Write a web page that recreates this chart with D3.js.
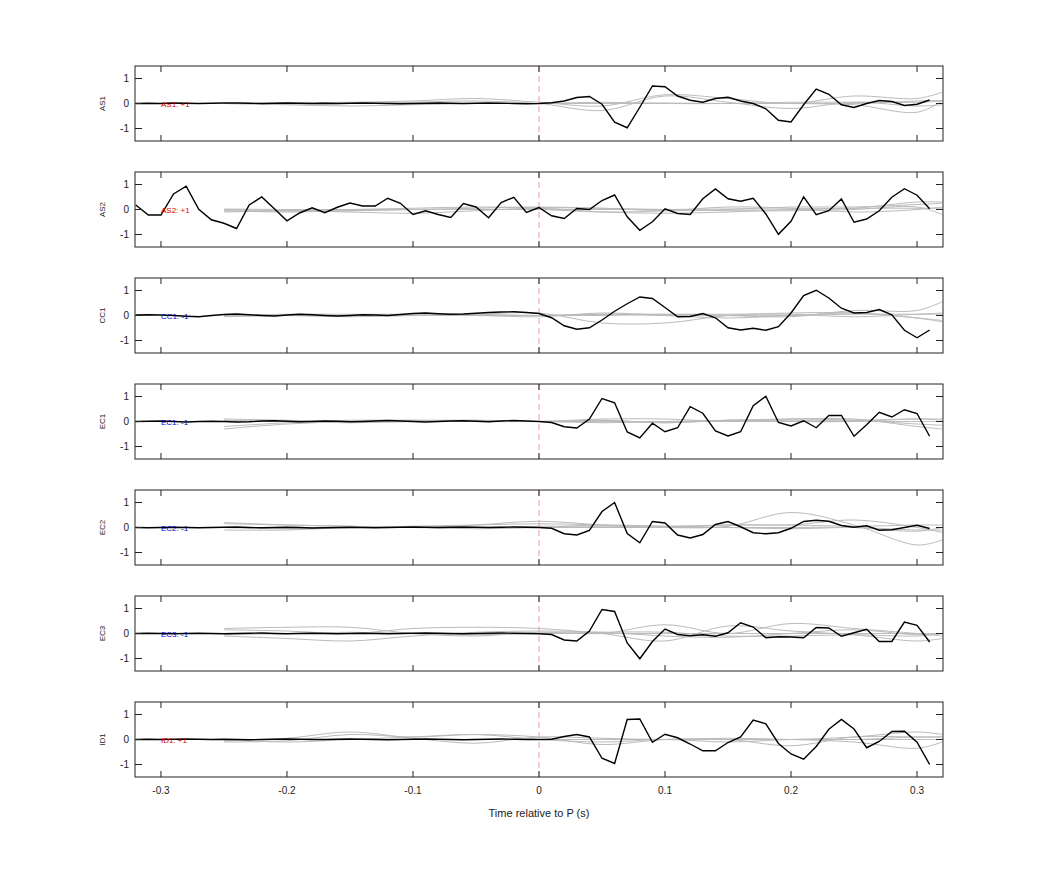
<!DOCTYPE html>
<html><head><meta charset="utf-8">
<script src="https://cdn.jsdelivr.net/npm/d3@7"></script>
<style>body{margin:0;background:#fff;font-family:"Liberation Sans",Arial,sans-serif}</style>
</head><body><div id="chart"></div>
<script>
//  data
const channels = ["AS1", "AS2", "CC1", "EC1", "EC2", "EC3", "ID1"];
const signs = ["+1", "+1", "-1", "-1", "-1", "-1", "+1"];
const times = d3.range(64).map(i => -0.32 + i * 0.01);
const blackValues = [
  [0,0.01,0,0.02,0.01,0,0.01,0.02,0.02,0.01,0,0.01,0.02,0.01,0,0.01,0,0.01,0.02,0.01,0,-0.01,0,0.01,0.02,0.01,0,0.01,0.02,0.01,0,-0.01,0,
   0.03,0.1,0.24,0.28,-0.03,-0.75,-0.97,-0.15,0.7,0.67,0.3,0.13,0.05,0.2,0.25,0.1,0,-0.21,-0.67,-0.74,-0.05,0.58,0.37,-0.05,-0.16,0,0.12,0.08,-0.08,-0.03,0.14],
  [0.18,-0.22,-0.22,0.62,0.93,0.01,-0.41,-0.55,-0.76,0.18,0.5,0.03,-0.45,-0.14,0.07,-0.13,0.09,0.26,0.14,0.14,0.45,0.25,-0.2,-0.05,-0.2,-0.32,0.24,0.1,-0.33,0.28,0.49,-0.12,0.08,
   -0.25,-0.36,0.04,0,0.36,0.58,-0.29,-0.83,-0.49,0.03,-0.16,-0.2,0.43,0.82,0.43,0.33,0.45,-0.18,-0.99,-0.47,0.51,-0.21,-0.05,0.42,-0.51,-0.38,-0.05,0.49,0.83,0.57,0.03],
  [0.02,0.03,0.02,0,-0.03,-0.05,0,0.04,0.06,0.03,0,-0.02,0.02,0.05,0.03,0,-0.02,0,0.03,0.02,0,0.04,0.08,0.1,0.07,0.05,0.06,0.09,0.12,0.14,0.15,0.12,0.08,
   -0.09,-0.41,-0.55,-0.49,-0.18,0.17,0.47,0.74,0.68,0.32,-0.05,-0.04,0.08,-0.09,-0.49,-0.58,-0.51,-0.59,-0.45,0.1,0.8,1.01,0.7,0.29,0.1,0.12,0.24,0.03,-0.59,-0.89,-0.58],
  [0,0.01,0.02,0,-0.02,0,0.01,0,-0.02,-0.01,0.02,0.03,0.01,-0.01,0,0.02,0.01,-0.01,0,0.02,0.04,0.02,0,-0.02,0,0.02,0.03,0.01,-0.01,0.02,0.04,0.02,0,
   -0.04,-0.21,-0.26,0.1,0.92,0.75,-0.42,-0.66,-0.07,-0.41,-0.25,0.59,0.33,-0.38,-0.58,-0.41,0.63,1.01,-0.04,-0.18,0.03,-0.25,0.24,0.24,-0.59,-0.13,0.37,0.18,0.47,0.32,-0.59],
  [0,-0.01,0,0.01,0,-0.01,0,0.01,0.02,0,-0.01,0,0.01,0,-0.02,-0.01,0,0.01,0,-0.01,0,0.01,0.02,0.01,0,0.01,0.02,0.01,0,0.01,0.02,0.01,0,
   -0.03,-0.25,-0.3,-0.12,0.64,1.0,-0.24,-0.61,0.24,0.18,-0.3,-0.42,-0.28,0.12,0.24,0.03,-0.21,-0.25,-0.21,-0.03,0.24,0.29,0.25,0.08,0.01,0.07,-0.11,-0.09,0,0.09,-0.04],
  [0,0.01,0,-0.01,0,0.01,0,-0.01,0,0.01,0.02,0,-0.01,0,0.01,0,-0.01,0,0.01,0,-0.01,0,0.01,0.02,0.01,0,-0.01,0,0.01,0.02,0.01,0,-0.01,
   -0.04,-0.26,-0.3,0.1,0.96,0.88,-0.38,-1.01,-0.32,0.18,-0.04,-0.09,-0.05,-0.11,0.03,0.43,0.26,-0.17,-0.13,-0.14,-0.17,0.24,0.22,-0.11,0.03,0.17,-0.32,-0.32,0.46,0.33,-0.34],
  [0,0.01,0,0.01,0.02,0.01,0,0.01,0,-0.01,0,0.01,0.02,0.01,0,0,0.01,0.02,0.01,0,-0.01,0,0.01,0.02,0.01,0,-0.01,0,0.01,0.02,0.01,0,0,
   0.01,0.12,0.2,0.1,-0.75,-0.96,0.8,0.82,-0.11,0.21,0.07,-0.18,-0.45,-0.45,-0.12,0.1,0.78,0.63,-0.16,-0.58,-0.79,-0.28,0.41,0.8,0.42,-0.33,-0.08,0.32,0.33,-0.11,-1.0]
];
const greyTimes = [-0.25,-0.2,-0.15,-0.1,-0.05,0,0.05,0.1,0.15,0.2,0.25,0.3,0.32];
const greyValues = [
  [[0,-0.02,0,0.05,0.1,0,-0.28,0.3,0.05,-0.2,0.05,-0.1,-0.05],[0,0.02,0.05,0.1,0.2,0.05,-0.1,0.35,0.2,0,0.3,0.2,0.45],[0,0,0,0,0,0,0,0.02,0,0,-0.05,-0.35,0.1],[0,-0.05,-0.1,-0.05,0,0,0.05,0,0,0.05,0.05,0.05,0.1],[0,0,0,0,0,0,0,0,0,0,0,0.1,0.12]],
  [[-0.05,-0.1,-0.05,0,0.05,0.1,0.05,-0.05,0,0.1,0.1,0.2,0.25],[0,-0.05,-0.1,-0.15,-0.05,0.05,-0.1,-0.15,-0.1,0,0.05,0.3,0.3],[-0.1,-0.05,0,0.05,0.1,0.08,0.05,0,-0.05,-0.05,0,0.1,-0.2],[0.02,0,0,0,0,0,0,0,0.02,0.02,0.05,0.05,0.05],[-0.05,-0.05,-0.05,0,0,0,-0.1,-0.05,0.1,0.05,-0.1,0,0.1]],
  [[0.05,0,-0.05,0,0.05,0.1,-0.3,-0.3,0,0.1,0.1,-0.1,-0.25],[0,0.05,0.05,0.05,0.05,0,0.05,0.05,0,-0.05,0.2,0.2,0.55],[-0.05,0,0,0,0,0,0,0.05,0.05,0.05,-0.05,0.05,0.1],[0,0,0,0,0,0,0.05,0,0,0,0.1,-0.1,-0.2],[-0.02,0,0,0,0,-0.05,0.1,0,-0.1,0,0.05,0.05,0.05]],
  [[-0.3,-0.1,0,0.05,0,0,0.05,-0.05,0.05,0,0,0.1,0.05],[-0.2,-0.05,0.05,0.05,0.05,0,0.05,-0.05,0.05,0.1,0.1,-0.2,-0.3],[0.05,0,-0.05,0,0.05,0,0.1,0.1,0,0.1,0.05,-0.1,-0.15],[0,0,0,0,0,0,0,0,0,0,0,0,0],[0.1,0.05,0,0,0,0,-0.05,0,0.05,0.05,0.05,0.1,0.1]],
  [[0.2,0.1,0.05,0,0.1,0.25,0.1,0,0.05,0.6,0.1,-0.7,-0.5],[0,-0.05,0,0.05,0.1,0.15,0.1,0,0.1,0.1,0.3,0,-0.2],[-0.1,-0.1,0,0,-0.05,0,0.1,0.05,0,-0.05,0,-0.1,-0.1],[0,0,0,0,0,0,0,0,0,0,0,-0.15,0],[0.15,0.1,0.05,0,0,0.05,0.05,0.05,0.1,0.1,0.05,0.1,0.1]],
  [[0.15,0.1,0,0.2,0.25,0.2,0,-0.3,0.3,0.1,-0.05,-0.3,-0.2],[0.2,0.25,0.25,0,-0.1,0.05,0,0.35,0,0.4,0.2,0,-0.1],[-0.1,-0.2,-0.3,-0.1,0.05,0.1,0.05,-0.1,-0.15,0,0.15,-0.05,0],[0,0,0,0,0,0,0,0,0,0,0,0,0],[-0.05,0,0.05,0,-0.05,0,0.05,0.05,-0.1,-0.1,-0.05,-0.1,0]],
  [[-0.1,-0.05,0.2,0.1,0.2,0.1,-0.2,0,0,-0.25,0.1,0.1,0.1],[-0.05,0.05,0.3,0.05,-0.15,0.1,0.05,0,0.05,0,-0.1,-0.35,-0.1],[0,0,0,0,0,0,0,0,0,0,0.1,0.3,0.2],[0,-0.1,0,0.1,0.2,0,-0.1,0,-0.1,0,0,0.1,0.1],[0,0,0,0,0,0,0,0,0,0,0,0,0]]
];
const xTicks = [-0.3, -0.2, -0.1, 0, 0.1, 0.2, 0.3];
const yTicks = [-1, 0, 1];

//  layout
const WIDTH = 1042, HEIGHT = 875;
const LEFT = 135, RIGHT = 943, TOP0 = 66, PANEL_H = 75, STEP = 106;
const svg = d3.select("#chart").append("svg").attr("width", WIDTH).attr("height", HEIGHT);
const x = d3.scaleLinear().domain([-0.3206, 0.3206]).range([LEFT, RIGHT]);

channels.forEach((ch, i) => {
  const top = TOP0 + i * STEP;
  const y = d3.scaleLinear().domain([-1.5, 1.5]).range([top + PANEL_H, top]);
  const g = svg.append("g");

  // zero dashed line
  g.append("line").attr("x1", x(0)).attr("x2", x(0)).attr("y1", top).attr("y2", top + PANEL_H)
    .attr("stroke", "#e99").attr("stroke-width", 1).attr("stroke-dasharray", "6,4");

  const greyLine = d3.line().x((d, k) => x(greyTimes[k])).y(d => y(d)).curve(d3.curveCatmullRom);
  greyValues[i].forEach(vals => {
    g.append("path").attr("d", greyLine(vals)).attr("fill", "none").attr("stroke", "#bbb").attr("stroke-width", 1);
  });

  const blackLine = d3.line().x((d, k) => x(times[k])).y(d => y(d));
  g.append("path").attr("d", blackLine(blackValues[i])).attr("fill", "none").attr("stroke", "#000").attr("stroke-width", 1.4);

  g.append("text").attr("x", x(-0.3)).attr("y", y(0) + 3).attr("font-size", 8)
    .attr("fill", signs[i] === "+1" ? "#d00" : "#00b").text(`${ch}: ${signs[i]}`);

  // box and inward ticks
  g.append("rect").attr("x", LEFT).attr("y", top).attr("width", RIGHT - LEFT).attr("height", PANEL_H)
    .attr("fill", "none").attr("stroke", "#222").attr("stroke-width", 1);
  xTicks.forEach(t => {
    g.append("line").attr("x1", x(t)).attr("x2", x(t)).attr("y1", top).attr("y2", top + 6).attr("stroke", "#222");
    g.append("line").attr("x1", x(t)).attr("x2", x(t)).attr("y1", top + PANEL_H).attr("y2", top + PANEL_H - 6).attr("stroke", "#222");
  });
  yTicks.forEach(t => {
    g.append("line").attr("x1", LEFT).attr("x2", LEFT + 7).attr("y1", y(t)).attr("y2", y(t)).attr("stroke", "#222");
    g.append("line").attr("x1", RIGHT).attr("x2", RIGHT - 7).attr("y1", y(t)).attr("y2", y(t)).attr("stroke", "#222");
    g.append("text").attr("x", LEFT - 6).attr("y", y(t) + 3.5).attr("text-anchor", "end")
      .attr("font-size", 10).attr("fill", "#222").text(t);
  });
  g.append("text").attr("transform", `translate(105,${y(0)}) rotate(-90)`).attr("text-anchor", "middle")
    .attr("font-size", 8).attr("fill", "#222").text(ch);
});

const bottom = TOP0 + 6 * STEP + PANEL_H;
xTicks.forEach(t => {
  svg.append("text").attr("x", x(t)).attr("y", bottom + 17).attr("text-anchor", "middle")
    .attr("font-size", 10).attr("fill", "#222").text(t);
});
svg.append("text").attr("x", x(0)).attr("y", bottom + 40).attr("text-anchor", "middle")
  .attr("font-size", 11).attr("fill", "#222").text("Time relative to P (s)");
</script></body></html>
